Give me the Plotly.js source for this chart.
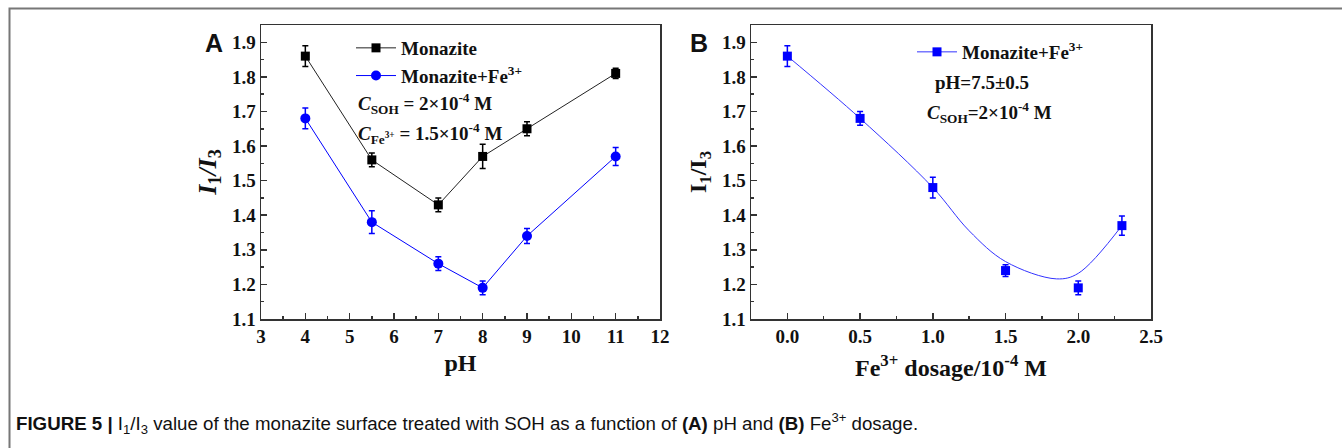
<!DOCTYPE html>
<html>
<head>
<meta charset="utf-8">
<script src="https://cdn.plot.ly/plotly-3.0.1.min.js"></script>
<style>
html,body{margin:0;padding:0;background:#fff;}
#chart{width:1342px;height:448px;}
</style>
</head>
<body>
<div id="chart"></div>
<script>
// Panel A data
const pH = [4, 5.5, 7, 8, 9, 11];
const monazite = [1.86, 1.56, 1.43, 1.57, 1.65, 1.81];
const monaziteErr = [0.03, 0.02, 0.02, 0.035, 0.02, 0.015];
const monaziteFe = [1.68, 1.38, 1.26, 1.19, 1.34, 1.57];
const monaziteFeErr = [0.03, 0.033, 0.02, 0.02, 0.022, 0.026];
// Panel B data
const feDose = [0, 0.5, 1.0, 1.5, 2.0, 2.3];
const feVal = [1.86, 1.68, 1.48, 1.24, 1.19, 1.37];
const feErr = [0.03, 0.02, 0.03, 0.017, 0.02, 0.028];
// Panel B fitted curve
const fitX = [0, 0.5, 1.0, 1.25, 1.5, 1.85, 2.0, 2.3];
const fitY = [1.86, 1.68, 1.48, 1.355, 1.266, 1.216, 1.232, 1.37];

const serif = 'Liberation Serif, Times New Roman, serif';
const W = 1342, H = 448;
const px = v => v / W, py = v => 1 - v / H;

const traces = [
  {x: pH, y: monazite, type: 'scatter', mode: 'lines+markers', name: 'Monazite',
   line: {color: '#222', width: 1}, marker: {symbol: 'square', size: 9, color: '#000'},
   error_y: {type: 'data', array: monaziteErr, color: '#000', thickness: 1.5, width: 3},
   xaxis: 'x', yaxis: 'y', legend: 'legend'},
  {x: pH, y: monaziteFe, type: 'scatter', mode: 'lines+markers', name: 'Monazite+Fe<sup>3+</sup>',
   line: {color: '#0000FF', width: 1}, marker: {symbol: 'circle', size: 10, color: '#0000FF'},
   error_y: {type: 'data', array: monaziteFeErr, color: '#0000FF', thickness: 1.5, width: 3},
   xaxis: 'x', yaxis: 'y', legend: 'legend'},
  {x: fitX, y: fitY, type: 'scatter', mode: 'lines', showlegend: false,
   line: {color: '#3333FF', width: 1, shape: 'spline', smoothing: 1},
   xaxis: 'x2', yaxis: 'y2', hoverinfo: 'skip'},
  {x: feDose, y: feVal, type: 'scatter', mode: 'markers', showlegend: false,
   marker: {symbol: 'square', size: 9, color: '#0000FF'},
   error_y: {type: 'data', array: feErr, color: '#0000FF', thickness: 1.5, width: 3},
   xaxis: 'x2', yaxis: 'y2'},
  // legend entry for panel B (line + marker sample)
  {x: [null], y: [null], type: 'scatter', mode: 'lines+markers', name: 'Monazite+Fe<sup>3+</sup>',
   line: {color: '#3333FF', width: 1}, marker: {symbol: 'square', size: 9, color: '#0000FF'},
   xaxis: 'x2', yaxis: 'y2', legend: 'legend2', showlegend: true}
];

const axCommon = {
  showline: true, linecolor: '#333', linewidth: 1.5, mirror: true,
  ticks: 'inside', ticklen: 6, tickwidth: 1.5, tickcolor: '#333',
  showgrid: false, zeroline: false,
  tickfont: {family: serif, size: 19, color: '#111', weight: 'bold'},
};
const minorCommon = {ticks: 'inside', ticklen: 3, tickwidth: 1.5, tickcolor: '#333'};

const layout = {
  width: W, height: H,
  margin: {l: 0, r: 0, t: 0, b: 0},
  paper_bgcolor: '#fff', plot_bgcolor: '#fff',
  showlegend: true,
  xaxis: Object.assign({}, axCommon, {
    domain: [px(261), px(660)], range: [3, 12], dtick: 1, anchor: 'y',
    minor: Object.assign({dtick: 0.5}, minorCommon),
    title: {text: '<b>pH</b>', font: {family: serif, size: 24, color: '#111'}, standoff: 8}
  }),
  yaxis: Object.assign({}, axCommon, {
    domain: [py(319), py(25)], range: [1.1, 1.95], dtick: 0.1, tickformat: '.1f', anchor: 'x',
    minor: Object.assign({dtick: 0.05}, minorCommon),
    title: {text: '<b><i>I</i><sub>1</sub><i>/I</i><sub>3</sub></b>', font: {family: serif, size: 26, color: '#111'}, standoff: 8}
  }),
  xaxis2: Object.assign({}, axCommon, {
    domain: [px(751), px(1151)], range: [-0.25, 2.5], dtick: 0.5, tick0: 0, tickformat: '.1f', anchor: 'y2',
    minor: Object.assign({dtick: 0.25, tick0: 0}, minorCommon),
    title: {text: '<b>Fe<sup>3+</sup> dosage/10<sup>-4</sup> M</b>', font: {family: serif, size: 24, color: '#111'}, standoff: 13}
  }),
  yaxis2: Object.assign({}, axCommon, {
    domain: [py(319), py(25)], range: [1.1, 1.95], dtick: 0.1, tickformat: '.1f', anchor: 'x2',
    minor: Object.assign({dtick: 0.05}, minorCommon),
    title: {text: '<b>I<sub>1</sub>/I<sub>3</sub></b>', font: {family: serif, size: 24, color: '#111'}, standoff: 8}
  }),
  legend: {
    x: px(351), y: py(29), xanchor: 'left', yanchor: 'top',
    bgcolor: 'rgba(0,0,0,0)', borderwidth: 0,
    font: {family: serif, size: 19, color: '#111', weight: 'bold'},
    itemwidth: 40, tracegroupgap: 0, tracegroupgap: 0
  },
  legend2: {
    x: px(912), y: py(33), xanchor: 'left', yanchor: 'top',
    bgcolor: 'rgba(0,0,0,0)', borderwidth: 0,
    font: {family: serif, size: 19, color: '#111', weight: 'bold'},
    itemwidth: 40
  },
  annotations: [
    {text: '<b>A</b>', x: px(203), y: py(43), xref: 'paper', yref: 'paper', xanchor: 'left', yanchor: 'middle',
     showarrow: false, font: {family: 'Liberation Sans, Arial, sans-serif', size: 25, color: '#111'}},
    {text: '<b>B</b>', x: px(688), y: py(43), xref: 'paper', yref: 'paper', xanchor: 'left', yanchor: 'middle',
     showarrow: false, font: {family: 'Liberation Sans, Arial, sans-serif', size: 25, color: '#111'}},
    {text: '<b><i>C</i><sub>SOH</sub> = 2×10<sup>-4</sup> M</b>', x: px(356), y: py(103), xref: 'paper', yref: 'paper',
     xanchor: 'left', yanchor: 'middle', showarrow: false, font: {family: serif, size: 19, color: '#111'}},
    {text: '<b><i>C</i><sub>Fe<sup>3+</sup></sub> = 1.5×10<sup>-4</sup> M</b>', x: px(356), y: py(133), xref: 'paper', yref: 'paper',
     xanchor: 'left', yanchor: 'middle', showarrow: false, font: {family: serif, size: 19, color: '#111'}},
    {text: '<b>pH=7.5±0.5</b>', x: px(933), y: py(82), xref: 'paper', yref: 'paper',
     xanchor: 'left', yanchor: 'middle', showarrow: false, font: {family: serif, size: 19, color: '#111'}},
    {text: '<b><i>C</i><sub>SOH</sub>=2×10<sup>-4</sup> M</b>', x: px(925), y: py(113), xref: 'paper', yref: 'paper',
     xanchor: 'left', yanchor: 'middle', showarrow: false, font: {family: serif, size: 19, color: '#111'}},
    {text: '<b>FIGURE 5 |</b> I<sub>1</sub>/I<sub>3</sub> value of the monazite surface treated with SOH as a function of <b>(A)</b> pH and <b>(B)</b> Fe<sup>3+</sup> dosage.',
     x: px(14), y: py(423), xref: 'paper', yref: 'paper', xanchor: 'left', yanchor: 'middle', showarrow: false,
     font: {family: 'Liberation Sans, Arial, sans-serif', size: 18.7, color: '#111'}}
  ],
  shapes: [
    {type: 'path', xref: 'paper', yref: 'paper', path: `M ${px(9.5)} 0 L ${px(9.5)} ${py(8.5)} L 1 ${py(8.5)}`,
     line: {color: '#777', width: 2}}
  ]
};

Plotly.newPlot('chart', traces, layout, {displayModeBar: false, staticPlot: true});
</script>
</body>
</html>
